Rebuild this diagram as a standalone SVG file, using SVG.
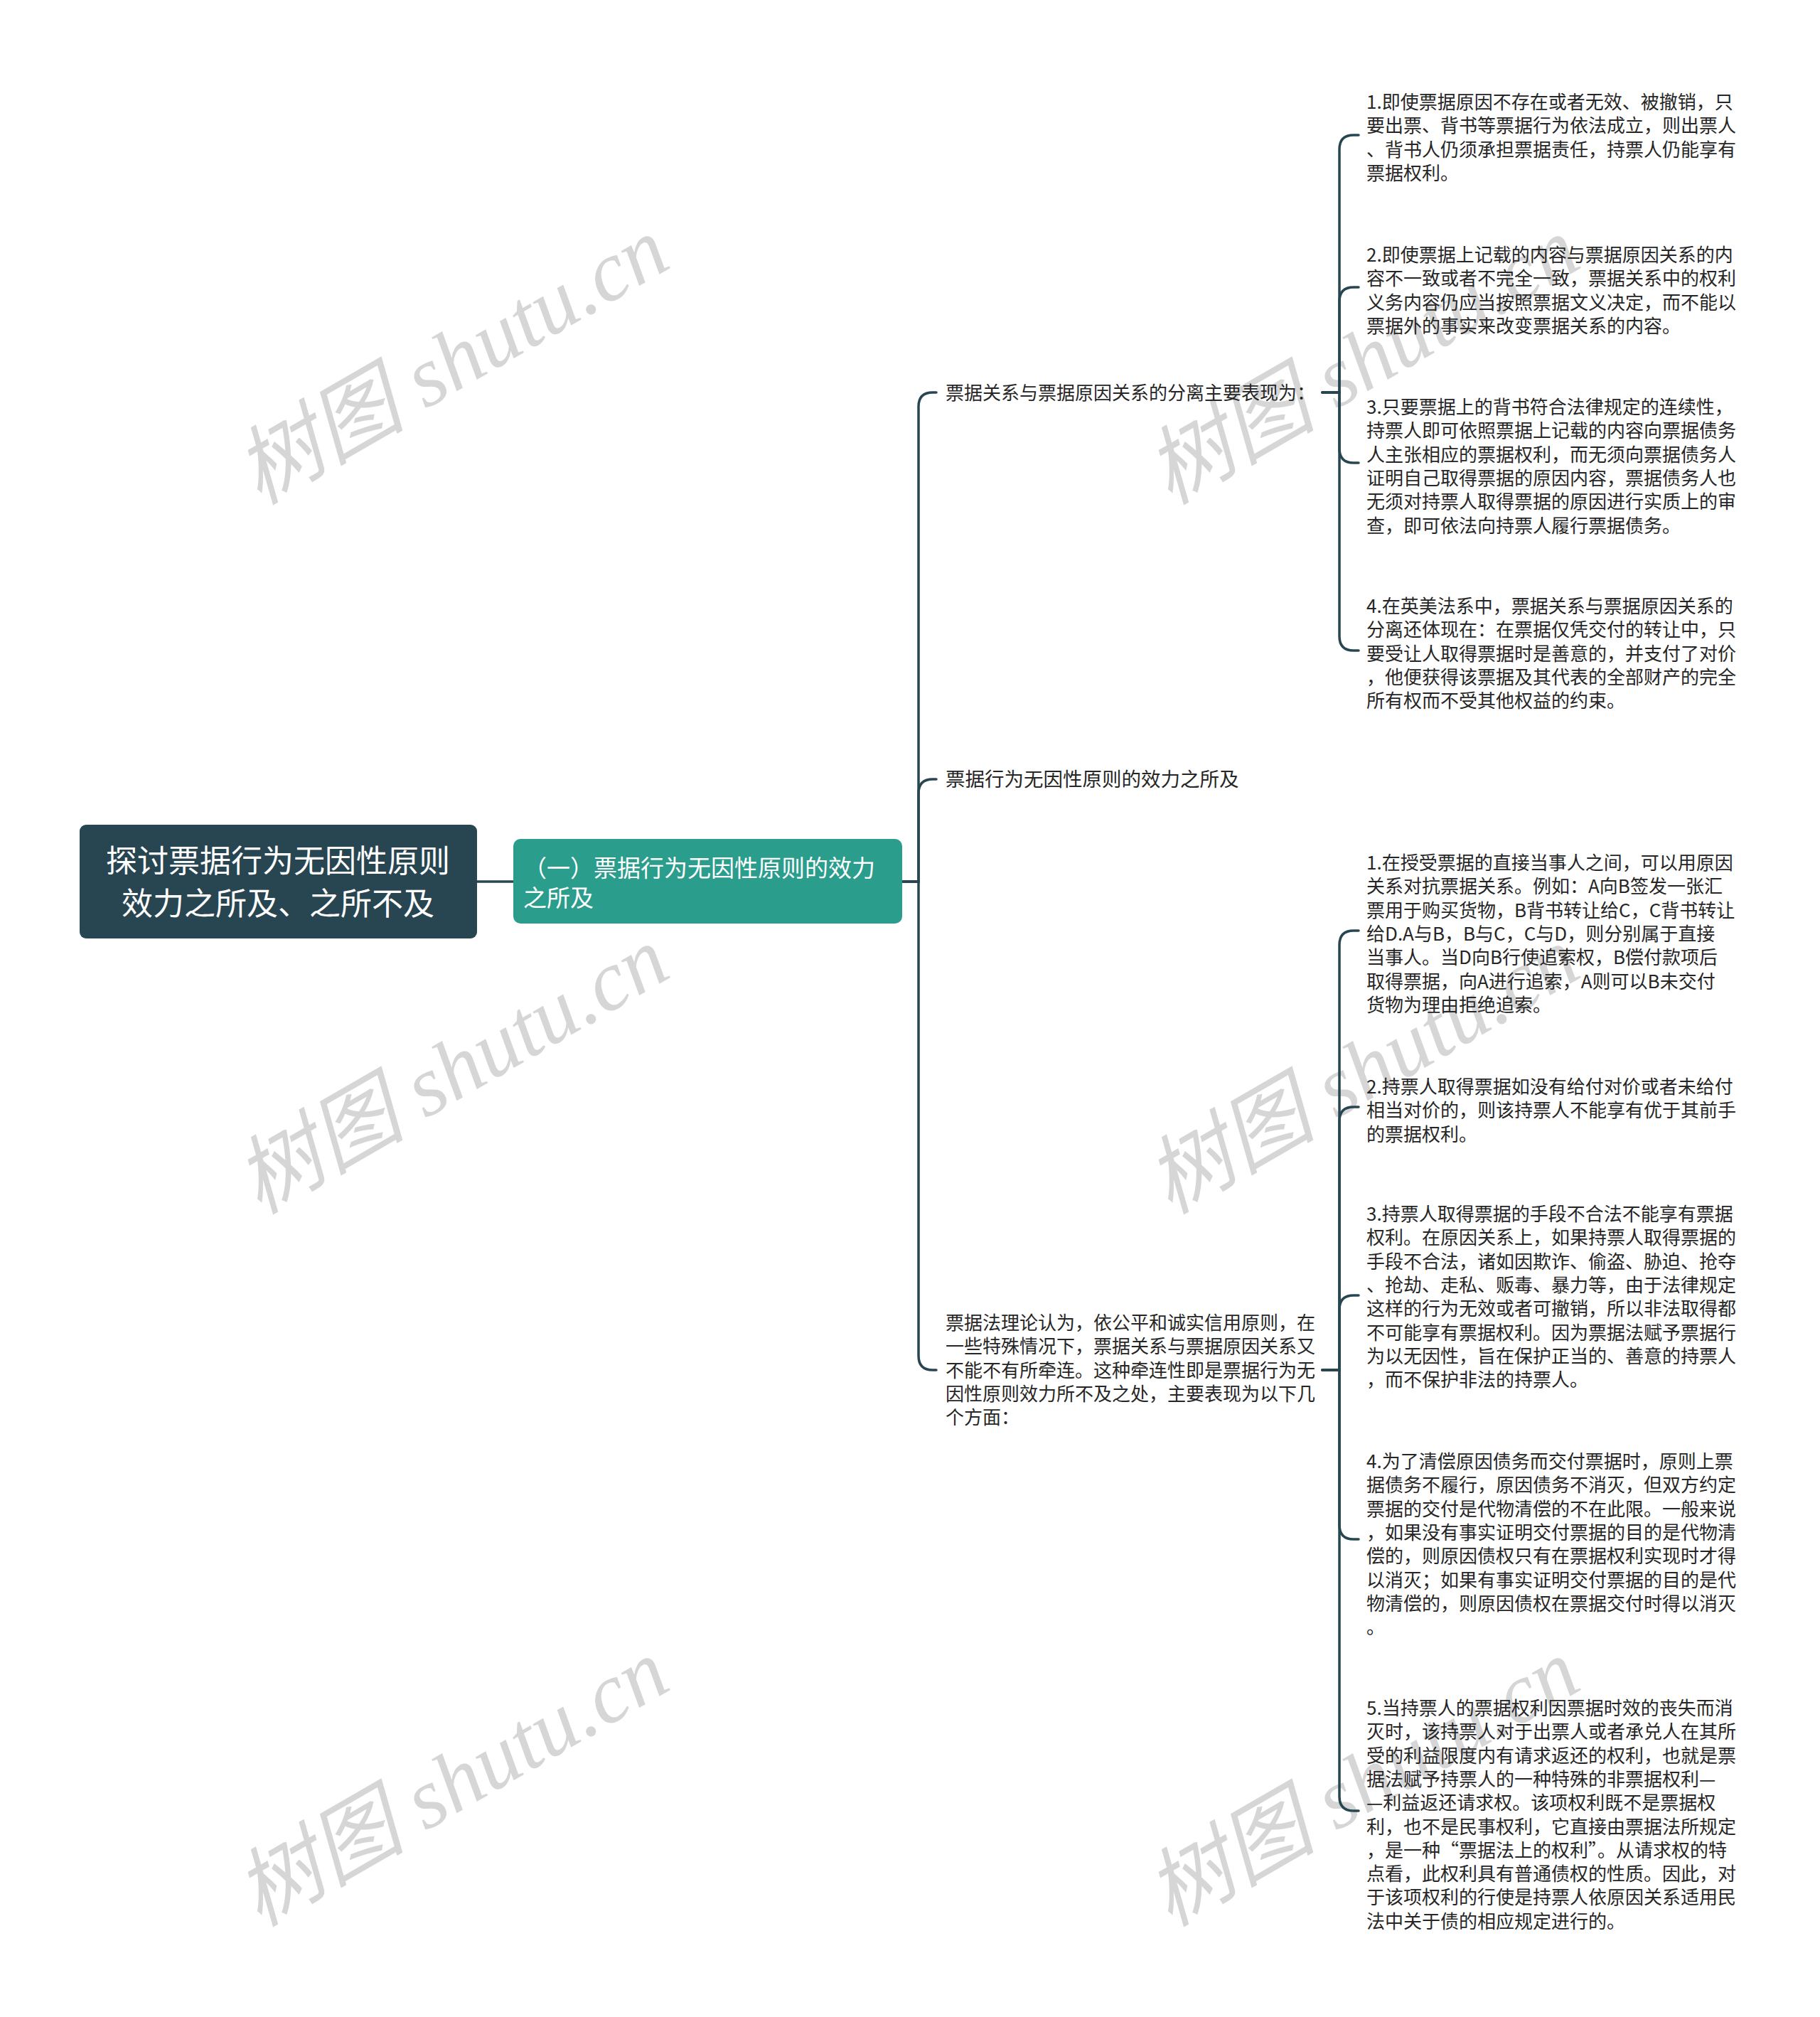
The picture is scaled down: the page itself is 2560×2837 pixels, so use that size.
<svg xmlns="http://www.w3.org/2000/svg" width="2560" height="2837" viewBox="0 0 2560 2837">
<style>
.bg{fill:#ffffff}
.wm{font-family:"Liberation Serif","Noto Sans CJK SC",serif;font-style:italic;font-size:120px;fill:#d6d6d6;text-anchor:middle}
.root{fill:#284652}
.sub{fill:#2a9d8c}
.rt{font-family:"Noto Sans CJK SC","Liberation Sans",sans-serif;font-size:44px;fill:#ffffff;text-anchor:middle}
.st{font-family:"Noto Sans CJK SC","Liberation Sans",sans-serif;font-size:33px;fill:#ffffff}
.t{font-family:"Noto Sans CJK SC","Liberation Sans",sans-serif;font-size:26px;fill:#262626}
.c{fill:none;stroke:#284652;stroke-width:3.5;stroke-linecap:round}
</style>
<rect class="bg" x="0" y="0" width="2560" height="2837"/>
<g id="watermarks">
<text class="wm" transform="translate(636,508) rotate(-30)" y="40">树图 shutu.cn</text>
<text class="wm" transform="translate(636,1506) rotate(-30)" y="40">树图 shutu.cn</text>
<text class="wm" transform="translate(636,2508) rotate(-30)" y="40">树图 shutu.cn</text>
<text class="wm" transform="translate(1917,508) rotate(-30)" y="40">树图 shutu.cn</text>
<text class="wm" transform="translate(1917,1506) rotate(-30)" y="40">树图 shutu.cn</text>
<text class="wm" transform="translate(1917,2508) rotate(-30)" y="40">树图 shutu.cn</text>
</g>
<g id="connectors">
<path class="c" d="M671 1240 H722"/>
<path class="c" d="M1269 1240 H1292 V572 Q1292 552 1312 552 H1317"/>
<path class="c" d="M1269 1240 H1292 V1116 Q1292 1096 1312 1096 H1317"/>
<path class="c" d="M1269 1240 H1292 V1907 Q1292 1927 1312 1927 H1317"/>
<path class="c" d="M1860 552 H1884 V210 Q1884 190 1904 190 H1911"/>
<path class="c" d="M1860 552 H1884 V424 Q1884 404 1904 404 H1911"/>
<path class="c" d="M1860 552 H1884 V631 Q1884 651 1904 651 H1911"/>
<path class="c" d="M1860 552 H1884 V895 Q1884 915 1904 915 H1911"/>
<path class="c" d="M1860 1927 H1884 V1329 Q1884 1309 1904 1309 H1911"/>
<path class="c" d="M1860 1927 H1884 V1577 Q1884 1557 1904 1557 H1911"/>
<path class="c" d="M1860 1927 H1884 V1842 Q1884 1822 1904 1822 H1911"/>
<path class="c" d="M1860 1927 H1884 V2145 Q1884 2165 1904 2165 H1911"/>
<path class="c" d="M1860 1927 H1884 V2527 Q1884 2547 1904 2547 H1911"/>
</g>
<g id="root">
<rect class="root" x="112" y="1160" width="559" height="160" rx="9"/>
<text class="rt"><tspan x="391" y="1227">探讨票据行为无因性原则</tspan><tspan x="391" y="1287">效力之所及、之所不及</tspan></text>
</g>
<g id="sub1">
<rect class="sub" x="722" y="1180" width="547" height="119" rx="10"/>
<text class="st"><tspan x="736" y="1233">（一）票据行为无因性原则的效力</tspan><tspan x="736" y="1275">之所及</tspan></text>
</g>
<g id="nodeA">
<text class="t" x="1330" y="562">票据关系与票据原因关系的分离主要表现为：</text>
</g>
<g id="nodeB">
<text class="t" x="1330" y="1106" style="font-size:27.5px">票据行为无因性原则的效力之所及</text>
</g>
<g id="nodeC">
<text class="t"><tspan x="1330" y="1870">票据法理论认为，依公平和诚实信用原则，在</tspan><tspan x="1330" y="1903.3">一些特殊情况下，票据关系与票据原因关系又</tspan><tspan x="1330" y="1936.6">不能不有所牵连。这种牵连性即是票据行为无</tspan><tspan x="1330" y="1969.9">因性原则效力所不及之处，主要表现为以下几</tspan><tspan x="1330" y="2003.2">个方面：</tspan></text>
</g>
<g id="leafA1">
<text class="t"><tspan x="1922" y="153">1.即使票据原因不存在或者无效、被撤销，只</tspan><tspan x="1922" y="186.3">要出票、背书等票据行为依法成立，则出票人</tspan><tspan x="1922" y="219.6">、背书人仍须承担票据责任，持票人仍能享有</tspan><tspan x="1922" y="252.9">票据权利。</tspan></text>
</g>
<g id="leafA2">
<text class="t"><tspan x="1922" y="368">2.即使票据上记载的内容与票据原因关系的内</tspan><tspan x="1922" y="401.3">容不一致或者不完全一致，票据关系中的权利</tspan><tspan x="1922" y="434.6">义务内容仍应当按照票据文义决定，而不能以</tspan><tspan x="1922" y="467.9">票据外的事实来改变票据关系的内容。</tspan></text>
</g>
<g id="leafA3">
<text class="t"><tspan x="1922" y="582">3.只要票据上的背书符合法律规定的连续性，</tspan><tspan x="1922" y="615.3">持票人即可依照票据上记载的内容向票据债务</tspan><tspan x="1922" y="648.6">人主张相应的票据权利，而无须向票据债务人</tspan><tspan x="1922" y="681.9">证明自己取得票据的原因内容，票据债务人也</tspan><tspan x="1922" y="715.2">无须对持票人取得票据的原因进行实质上的审</tspan><tspan x="1922" y="748.5">查，即可依法向持票人履行票据债务。</tspan></text>
</g>
<g id="leafA4">
<text class="t"><tspan x="1922" y="862">4.在英美法系中，票据关系与票据原因关系的</tspan><tspan x="1922" y="895.3">分离还体现在：在票据仅凭交付的转让中，只</tspan><tspan x="1922" y="928.6">要受让人取得票据时是善意的，并支付了对价</tspan><tspan x="1922" y="961.9">，他便获得该票据及其代表的全部财产的完全</tspan><tspan x="1922" y="995.2">所有权而不受其他权益的约束。</tspan></text>
</g>
<g id="leafC1">
<text class="t"><tspan x="1922" y="1223">1.在授受票据的直接当事人之间，可以用原因</tspan><tspan x="1922" y="1256.3">关系对抗票据关系。例如：A向B签发一张汇</tspan><tspan x="1922" y="1289.6">票用于购买货物，B背书转让给C，C背书转让</tspan><tspan x="1922" y="1322.9">给D.A与B，B与C，C与D，则分别属于直接</tspan><tspan x="1922" y="1356.2">当事人。当D向B行使追索权，B偿付款项后</tspan><tspan x="1922" y="1389.5">取得票据，向A进行追索，A则可以B未交付</tspan><tspan x="1922" y="1422.8">货物为理由拒绝追索。</tspan></text>
</g>
<g id="leafC2">
<text class="t"><tspan x="1922" y="1538">2.持票人取得票据如没有给付对价或者未给付</tspan><tspan x="1922" y="1571.3">相当对价的，则该持票人不能享有优于其前手</tspan><tspan x="1922" y="1604.6">的票据权利。</tspan></text>
</g>
<g id="leafC3">
<text class="t"><tspan x="1922" y="1717">3.持票人取得票据的手段不合法不能享有票据</tspan><tspan x="1922" y="1750.3">权利。在原因关系上，如果持票人取得票据的</tspan><tspan x="1922" y="1783.6">手段不合法，诸如因欺诈、偷盗、胁迫、抢夺</tspan><tspan x="1922" y="1816.9">、抢劫、走私、贩毒、暴力等，由于法律规定</tspan><tspan x="1922" y="1850.2">这样的行为无效或者可撤销，所以非法取得都</tspan><tspan x="1922" y="1883.5">不可能享有票据权利。因为票据法赋予票据行</tspan><tspan x="1922" y="1916.8">为以无因性，旨在保护正当的、善意的持票人</tspan><tspan x="1922" y="1950.1">，而不保护非法的持票人。</tspan></text>
</g>
<g id="leafC4">
<text class="t"><tspan x="1922" y="2065">4.为了清偿原因债务而交付票据时，原则上票</tspan><tspan x="1922" y="2098.3">据债务不履行，原因债务不消灭，但双方约定</tspan><tspan x="1922" y="2131.6">票据的交付是代物清偿的不在此限。一般来说</tspan><tspan x="1922" y="2164.9">，如果没有事实证明交付票据的目的是代物清</tspan><tspan x="1922" y="2198.2">偿的，则原因债权只有在票据权利实现时才得</tspan><tspan x="1922" y="2231.5">以消灭；如果有事实证明交付票据的目的是代</tspan><tspan x="1922" y="2264.8">物清偿的，则原因债权在票据交付时得以消灭</tspan><tspan x="1922" y="2298.1">。</tspan></text>
</g>
<g id="leafC5">
<text class="t"><tspan x="1922" y="2412">5.当持票人的票据权利因票据时效的丧失而消</tspan><tspan x="1922" y="2445.3">灭时，该持票人对于出票人或者承兑人在其所</tspan><tspan x="1922" y="2478.6">受的利益限度内有请求返还的权利，也就是票</tspan><tspan x="1922" y="2511.9">据法赋予持票人的一种特殊的非票据权利—</tspan><tspan x="1922" y="2545.2">—利益返还请求权。该项权利既不是票据权</tspan><tspan x="1922" y="2578.5">利，也不是民事权利，它直接由票据法所规定</tspan><tspan x="1922" y="2611.8">，是一种“票据法上的权利”。从请求权的特</tspan><tspan x="1922" y="2645.1">点看，此权利具有普通债权的性质。因此，对</tspan><tspan x="1922" y="2678.4">于该项权利的行使是持票人依原因关系适用民</tspan><tspan x="1922" y="2711.7">法中关于债的相应规定进行的。</tspan></text>
</g>
</svg>
